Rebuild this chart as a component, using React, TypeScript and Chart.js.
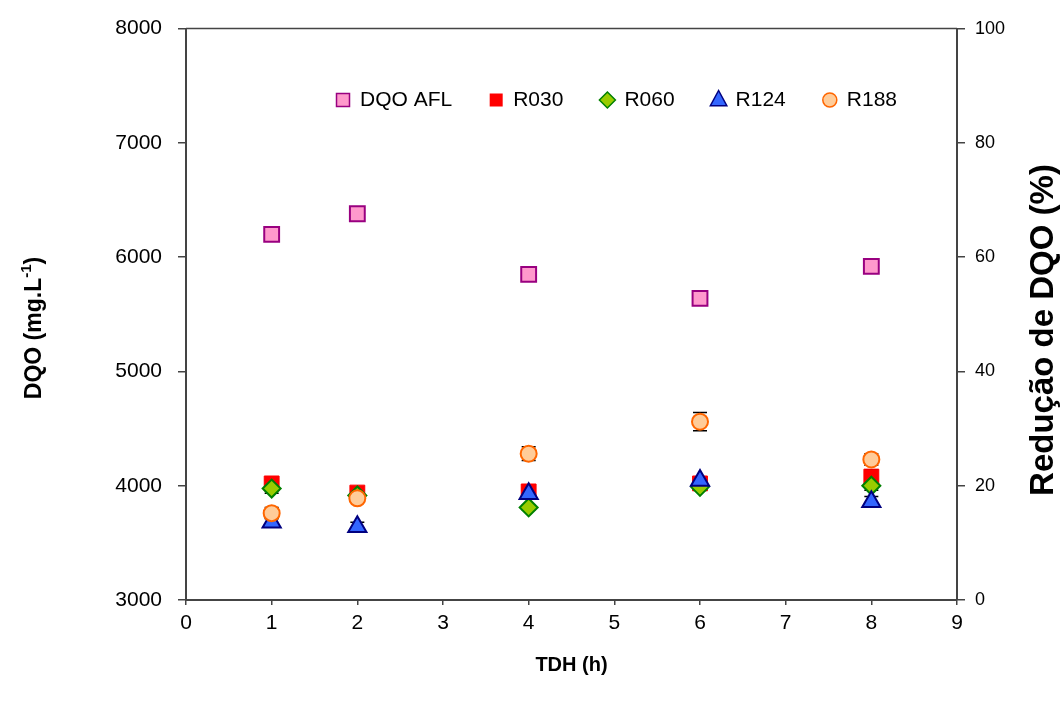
import React, { useEffect, useRef } from 'react';
import { Chart, registerables } from 'chart.js';

Chart.register(...registerables);

const FONT = "'Liberation Sans', Arial, sans-serif";

const tdh = [1, 2, 4, 6, 8];
const dqoAfl = [6200, 6380, 5850, 5640, 5920];
const r030 = [4020, 3940, 3950, 4020, 4080];
const r060 = [3975, 3915, 3810, 3990, 4000];
const r124 = [3680, 3640, 3930, 4045, 3860];
const r188 = [3760, 3890, 4280, 4560, 4230];
const r030Err = [30, 25, 30, 40, 60];
const r060Err = [40, 30, 20, 30, 40];
const r124Err = [40, 40, 30, 30, 45];
const r188Err = [50, 30, 60, 80, 50];

const xTickMin = 0;
const xTickMax = 9;
const yLeftMin = 3000;
const yLeftMax = 8000;
const yRightMin = 0;
const yRightMax = 100;

const toPoints = (ys: number[]) => tdh.map((x, i) => ({ x, y: ys[i] }));

function drawMarker(ctx: CanvasRenderingContext2D, style: string, x: number, y: number, fill: string, stroke: string, lw: number) {
  ctx.save();
  ctx.fillStyle = fill;
  ctx.strokeStyle = stroke;
  ctx.lineWidth = lw;
  ctx.beginPath();
  if (style === 'rect') {
    ctx.rect(x - 6.5, y - 6.5, 13, 13);
  } else if (style === 'rectRot') {
    const r = 8;
    ctx.moveTo(x, y - r);
    ctx.lineTo(x + r, y);
    ctx.lineTo(x, y + r);
    ctx.lineTo(x - r, y);
    ctx.closePath();
  } else if (style === 'triangle') {
    const r = 9.5;
    ctx.moveTo(x, y - r);
    ctx.lineTo(x + r * 0.866, y + r * 0.6);
    ctx.lineTo(x - r * 0.866, y + r * 0.6);
    ctx.closePath();
  } else {
    ctx.arc(x, y, 7, 0, Math.PI * 2);
  }
  ctx.fill();
  if (lw > 0) ctx.stroke();
  ctx.restore();
}

const overlayPlugin = {
  id: 'overlay',
  beforeDatasetsDraw(chart: any) {
    const ctx = chart.ctx;
    const ys = chart.scales.y;
    const xs = chart.scales.x;
    ctx.save();
    ctx.strokeStyle = '#000';
    ctx.lineWidth = 1.5;
    chart.data.datasets.forEach((ds: any) => {
      if (!ds.errors) return;
      ds.data.forEach((p: any, i: number) => {
        const e = ds.errors[i];
        const px = xs.getPixelForValue(p.x);
        const top = ys.getPixelForValue(p.y + e);
        const bot = ys.getPixelForValue(p.y - e);
        ctx.beginPath();
        ctx.moveTo(px, top);
        ctx.lineTo(px, bot);
        ctx.moveTo(px - 7, top);
        ctx.lineTo(px + 7, top);
        ctx.moveTo(px - 7, bot);
        ctx.lineTo(px + 7, bot);
        ctx.stroke();
      });
    });
    ctx.restore();
  },
  afterDraw(chart: any) {
    const ctx = chart.ctx;
    const a = chart.chartArea;
    ctx.save();
    // top border of plot area
    ctx.strokeStyle = '#444';
    ctx.lineWidth = 1.5;
    ctx.beginPath();
    ctx.moveTo(a.left, a.top);
    ctx.lineTo(a.right, a.top);
    ctx.stroke();

    // legend (in plot area)
    ctx.font = `21px ${FONT}`;
    ctx.textBaseline = 'middle';
    ctx.textAlign = 'left';
    const items = chart.data.datasets.map((ds: any) => ({
      label: ds.label,
      style: ds.pointStyle,
      fill: ds.backgroundColor,
      stroke: ds.borderColor,
      w: ctx.measureText(ds.label).width,
    }));
    const markerW = 14;
    const gapMT = 10;
    const gapItems = 37;
    const total = items.reduce((s: number, it: any) => s + markerW + gapMT + it.w, 0) + gapItems * (items.length - 1);
    let lx = 897 - total;
    const ly = 100;
    items.forEach((it: any) => {
      drawMarker(ctx, it.style, lx + markerW / 2, ly, it.fill, it.stroke, it.style === 'rect' && it.fill === '#ff0000' ? 0 : 1.5);
      ctx.fillStyle = '#000';
      ctx.fillText(it.label, lx + markerW + gapMT, ly);
      lx += markerW + gapMT + it.w + gapItems;
    });

    ctx.fillStyle = '#000';
    ctx.textBaseline = 'middle';

    // left title with superscript
    const big = `bold 23px ${FONT}`;
    const small = `bold 15px ${FONT}`;
    const p1 = 'DQO (mg.L';
    const p2 = '-1';
    const p3 = ')';
    ctx.font = big;
    const w1 = ctx.measureText(p1).width;
    const w3 = ctx.measureText(p3).width;
    ctx.font = small;
    const w2 = ctx.measureText(p2).width;
    const tw = w1 + w2 + w3;
    ctx.save();
    ctx.translate(35, 328);
    ctx.rotate(-Math.PI / 2);
    ctx.textAlign = 'left';
    let cx = -tw / 2;
    ctx.font = big;
    ctx.fillText(p1, cx, 0);
    cx += w1;
    ctx.font = small;
    ctx.fillText(p2, cx, -8);
    cx += w2;
    ctx.font = big;
    ctx.fillText(p3, cx, 0);
    ctx.restore();

    // right title
    ctx.save();
    ctx.translate(1044, 330);
    ctx.rotate(-Math.PI / 2);
    ctx.textAlign = 'center';
    ctx.font = `bold 33px ${FONT}`;
    ctx.fillText('Redução de DQO (%)', 0, 0);
    ctx.restore();

    // x title
    ctx.textAlign = 'center';
    ctx.font = `bold 20px ${FONT}`;
    ctx.fillText('TDH (h)', (a.left + a.right) / 2, 665);
    ctx.restore();
  },
};

export default function App() {
  const ref = useRef<HTMLCanvasElement>(null);
  useEffect(() => {
    if (!ref.current) return;
    const axisColor = '#444';
    const fmt = (v: any) => String(v);
    const chart = new Chart(ref.current, {
      type: 'scatter',
      data: {
        datasets: [
          {
            label: 'DQO AFL',
            data: toPoints(dqoAfl),
            pointStyle: 'rect',
            pointRadius: 10.5,
            backgroundColor: '#ff99cc',
            borderColor: '#990080',
            borderWidth: 2,
            order: 0,
          },
          {
            label: 'R030',
            data: toPoints(r030),
            errors: r030Err,
            pointStyle: 'rect',
            pointRadius: 10.5,
            backgroundColor: '#ff0000',
            borderColor: '#ff0000',
            borderWidth: 1,
            order: 4,
          },
          {
            label: 'R060',
            data: toPoints(r060),
            errors: r060Err,
            pointStyle: 'rectRot',
            pointRadius: 9,
            backgroundColor: '#99cc00',
            borderColor: '#008000',
            borderWidth: 2,
            order: 3,
          },
          {
            label: 'R124',
            data: toPoints(r124),
            errors: r124Err,
            pointStyle: 'triangle',
            pointRadius: 10.5,
            backgroundColor: '#3366ff',
            borderColor: '#000080',
            borderWidth: 2,
            order: 2,
          },
          {
            label: 'R188',
            data: toPoints(r188),
            errors: r188Err,
            pointStyle: 'circle',
            pointRadius: 8,
            backgroundColor: '#ffcc99',
            borderColor: '#ff6600',
            borderWidth: 2,
            order: 1,
          },
        ] as any,
      },
      options: {
        animation: false,
        responsive: true,
        maintainAspectRatio: false,
        layout: { padding: { top: 28, left: 0, right: 0, bottom: 0 } },
        plugins: {
          tooltip: { enabled: false },
          legend: { display: false },
        },
        scales: {
          x: {
            type: 'linear',
            min: xTickMin,
            max: xTickMax,
            ticks: { stepSize: 1, color: '#000', font: { family: FONT, size: 21 }, padding: 6, callback: fmt },
            grid: { drawOnChartArea: false, drawTicks: true, tickLength: 5, color: axisColor, lineWidth: 1.5 },
            border: { color: axisColor, width: 2 },
            afterFit: (s: any) => { s.height = 107; },
          },
          y: {
            position: 'left',
            min: yLeftMin,
            max: yLeftMax,
            ticks: { stepSize: 1000, color: '#000', font: { family: FONT, size: 21 }, padding: 16, callback: fmt },
            grid: { drawOnChartArea: false, drawTicks: true, tickLength: 8, color: axisColor, lineWidth: 1.5 },
            border: { color: axisColor, width: 2 },
            afterFit: (s: any) => { s.width = 186; },
          },
          y1: {
            position: 'right',
            min: yRightMin,
            max: yRightMax,
            ticks: { stepSize: 20, color: '#000', font: { family: FONT, size: 18 }, padding: 10, callback: fmt },
            grid: { drawOnChartArea: false, drawTicks: true, tickLength: 8, color: axisColor, lineWidth: 1.5 },
            border: { color: axisColor, width: 2 },
            afterFit: (s: any) => { s.width = 105; },
          },
        },
      },
      plugins: [overlayPlugin],
    });
    return () => chart.destroy();
  }, []);

  return (
    <div style={{ position: 'fixed', left: 0, top: 0, width: 1062, height: 707 }}>
      <canvas ref={ref} />
    </div>
  );
}
